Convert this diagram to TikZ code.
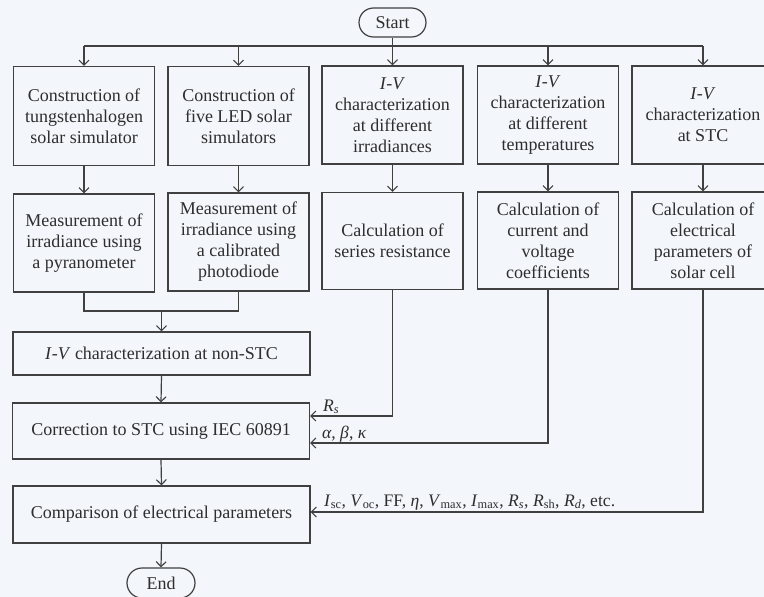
\documentclass[tikz,border=0pt]{standalone}
\usepackage{fontspec}
\setmainfont{Liberation Serif}
\usetikzlibrary{arrows.meta,shapes.misc}
\definecolor{bgc}{HTML}{F3F6FB}
\definecolor{lnc}{HTML}{404040}
\definecolor{txc}{HTML}{2E2E2E}
\newcommand{\IV}{\textit{I}-\textit{V}}
\begin{document}
\begin{tikzpicture}[x=1pt,y=-1pt,
  box/.style={draw=lnc,line width=1.2pt,text=txc,align=center,
    font=\fontsize{18}{21}\selectfont,inner sep=2pt},
  colbox/.style={box,minimum width=141pt,minimum height=99pt},
  pill/.style={draw=lnc,line width=1.2pt,text=txc,rounded rectangle,
    font=\fontsize{18}{20}\selectfont,minimum width=71pt,minimum height=29pt,inner sep=2pt},
  wire/.style={draw=lnc,line width=1.2pt},
  arr/.style={wire,-{Straight Barb[length=5pt,width=10pt,line width=1.1pt]}},
  lab/.style={text=txc,font=\fontsize{17.6}{20}\selectfont,inner sep=0pt,anchor=base west}]
\fill[bgc] (0,0) rectangle (764,597);
\useasboundingbox (0,0) rectangle (764,597);
\clip (0,0) rectangle (764,597);

\node[pill] (start) at (392.5,22.5) {Start};

\node[colbox] (b1) at (84,116) {Construction of\\tungstenhalogen\\solar simulator};
\node[colbox] (b2) at (238.5,116) {Construction of\\five LED solar\\simulators};
\node[colbox,minimum height=98pt] (b3) at (392.5,115) {\IV\\characterization\\at different\\irradiances};
\node[colbox,minimum height=98pt] (b4) at (548,115) {\IV\\characterization\\at different\\temperatures};
\node[colbox,minimum width=142pt,minimum height=98pt] (b5) at (703,115) {\IV\\characterization\\at STC};

\node[colbox,minimum height=98pt] (b1b) at (84,243) {Measurement of\\irradiance using\\a pyranometer};
\node[colbox,minimum height=98pt] (b2b) at (238.5,242) {Measurement of\\irradiance using\\a calibrated\\photodiode};
\node[colbox,minimum height=97pt] (b3b) at (392.5,241) {Calculation of\\series resistance};
\node[colbox,minimum height=97pt] (b4b) at (548,240.5) {Calculation of\\current and\\voltage\\coefficients};
\node[colbox,minimum width=142pt,minimum height=97pt] (b5b) at (703,240.5) {Calculation of\\electrical\\parameters of\\solar cell};

\node[box,minimum width=297pt,minimum height=43pt] (nst) at (161.5,353.5) {\IV{} characterization at non-STC};
\node[box,minimum width=297pt,minimum height=56pt] (corr) at (161,431) {Correction to STC using IEC 60891};
\node[box,minimum width=297pt,minimum height=57pt] (comp) at (161.5,514.5) {Comparison of electrical parameters};
\node[pill,minimum width=72pt,minimum height=30pt] (end) at (161,583) {End};

% top bus
\coordinate (bus) at (392.5,46);
\draw[wire] (start.south) -- (bus);
\draw[wire] (b1.north |- bus) -- (b5.north |- bus);
\foreach \n in {b1,b2,b3,b4,b5} \draw[arr] (\n.north |- bus) -- (\n.north);
\foreach \n in {b1,b2,b3,b4,b5} \draw[arr] (\n.south) -- (\n b.north);

% merge
\coordinate (m) at (161.5,311);
\draw[wire] (b1b.south) |- (m) -| (b2b.south);
\draw[arr] (m) -- (nst.north);
\draw[arr] (nst.south) -- (corr.north);
\draw[arr] (corr.south) -- (comp.north);
\draw[arr] (comp.south) -- (end.north);

% side inputs
\coordinate (yrs) at (0,416);
\coordinate (yab) at (0,443);
\coordinate (ypar) at (0,512);
\draw[arr] (b3b.south) |- (corr.east |- yrs);
\draw[arr] (b4b.south) |- (corr.east |- yab);
\draw[arr] (b5b.south) |- (comp.east |- ypar);

\node[lab] (lrs) at (323,411) {\textit{R\textsubscript{s}}};
\node[lab] (lab) at (322,438) {\textit{α}, \textit{β}, \textit{κ}};
\node[lab] (lpar) at (324,506) {\textit{I}\textsubscript{sc}, \textit{V}\textsubscript{oc}, FF, \textit{η}, \textit{V}\textsubscript{max}, \textit{I}\textsubscript{max}, \textit{R\textsubscript{s}}, \textit{R}\textsubscript{sh}, \textit{R\textsubscript{d}}, etc.};
\end{tikzpicture}
\end{document}
